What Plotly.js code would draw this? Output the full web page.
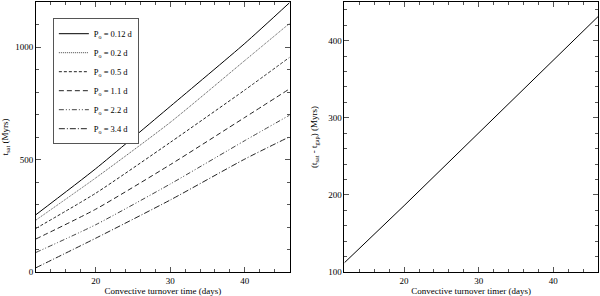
<!DOCTYPE html>
<html><head><meta charset="utf-8">
<script src="https://cdn.plot.ly/plotly-3.0.1.min.js"></script>
<style>html,body{margin:0;padding:0;background:#fff}#chart{width:600px;height:296px}</style>
</head><body><div id="chart"></div>
<script>
// Left panel: saturation time vs convective turnover time
const tauConv = [12, 20, 30, 40, 46];
const tsat_P012 = [255, 459, 736, 1016, 1197];
const tsat_P02  = [231, 418, 665, 940, 1105];
const tsat_P05  = [194, 350, 576, 809, 954];
const tsat_P11  = [147, 279, 477, 687, 814];
const tsat_P22  = [87, 210, 391, 584, 697];
const tsat_P34  = [19, 150, 320, 502, 601];
const periodLabels = ["0.12", "0.2", "0.5", "1.1", "2.2", "3.4"];
// Right panel: (t_sat - t_gap)
const tauConvR = [12, 20, 46];
const tsatMinusGap = [112, 186, 431];

const series = [tsat_P012, tsat_P02, tsat_P05, tsat_P11, tsat_P22, tsat_P34];
const dashes = ['solid', '1px,1px', '3px,2px', '5px,3px', '5px,2px,1px,2px,1px,2px', '6px,2px,1px,2px'];
const colors = ['#000', '#444', '#222', '#222', '#444', '#222'];

const traces = series.map((s, i) => ({
  x: tauConv, y: s, type: 'scatter', mode: 'lines', xaxis: 'x', yaxis: 'y',
  name: 'P<sub>o</sub> = ' + periodLabels[i] + ' d',
  line: {color: colors[i], width: 1, dash: dashes[i], shape: 'spline', smoothing: 0.6}
}));
traces.push({
  x: tauConvR, y: tsatMinusGap, type: 'scatter', mode: 'lines', xaxis: 'x2', yaxis: 'y2',
  showlegend: false, line: {color: '#000', width: 1}
});

const font = {family: 'Liberation Serif, DejaVu Serif, serif', size: 9, color: '#000'};
const axBase = {
  showline: true, linecolor: '#000', linewidth: 1, mirror: 'allticks',
  ticks: 'inside', ticklen: 5, tickcolor: '#555', tickwidth: 1,
  showgrid: false, zeroline: false, tickfont: font
};
const layout = {
  width: 600, height: 296,
  margin: {l: 36, r: 1.5, t: 2, b: 24},
  paper_bgcolor: '#fff', plot_bgcolor: '#fff',
  font: font,
  showlegend: true,
  legend: {x: 0.030, y: 0.94, xanchor: 'left', yanchor: 'top', bordercolor: '#555', borderwidth: 1,
           bgcolor: '#fff', font: {family: font.family, size: 8.5, color: '#000'},
           tracegroupgap: 0, itemwidth: 30},
  xaxis: Object.assign({}, axBase, {domain: [0, 0.4512], range: [12, 46], dtick: 10, tick0: 0,
    minor: {dtick: 2, ticks: 'inside', ticklen: 3, tickcolor: '#555'},
    title: {text: 'Convective turnover time (days)', font: font, standoff: 2}}),
  yaxis: Object.assign({}, axBase, {range: [0, 1200], dtick: 500, tick0: 0,
    minor: {dtick: 100, ticks: 'inside', ticklen: 3, tickcolor: '#555'},
    title: {text: 't<sub>sat</sub> (Myrs)', font: font, standoff: 6}}),
  xaxis2: Object.assign({}, axBase, {domain: [0.5488, 1], anchor: 'y2', range: [12, 46], dtick: 10, tick0: 0,
    minor: {dtick: 2, ticks: 'inside', ticklen: 3, tickcolor: '#555'},
    title: {text: 'Convective turnover timer (days)', font: font, standoff: 2}}),
  yaxis2: Object.assign({}, axBase, {anchor: 'x2', range: [100, 450], dtick: 100, tick0: 0,
    minor: {dtick: 20, ticks: 'inside', ticklen: 3, tickcolor: '#555'},
    title: {text: '(t<sub>sat</sub> - t<sub>gap</sub>) (Myrs)', font: font, standoff: 8}})
};
Plotly.newPlot('chart', traces, layout, {displayModeBar: false, staticPlot: true});
</script></body></html>
